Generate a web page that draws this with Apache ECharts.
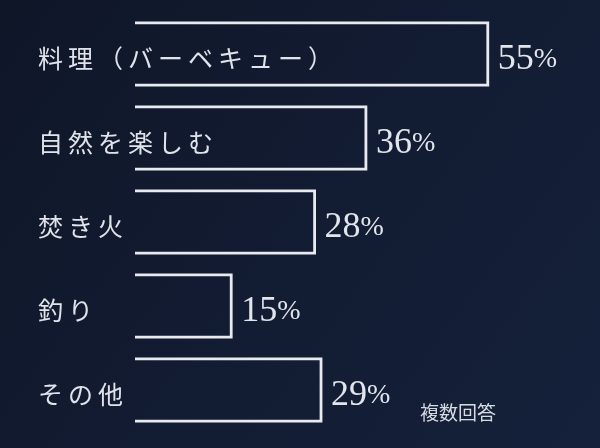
<!DOCTYPE html>
<html><head><meta charset="utf-8">
<script src="https://cdn.jsdelivr.net/npm/echarts@6/dist/echarts.min.js"></script>
<style>html,body{margin:0;padding:0;background:#121a2c;}#c{width:600px;height:448px;}</style>
</head><body><div id="c"></div>
<script>
const categories = ['料理（バーベキュー）', '自然を楽しむ', '焚き火', '釣り', 'その他'];
const values = [55, 36, 28, 15, 29];
const note = '複数回答';

const chart = echarts.init(document.getElementById('c'));
chart.setOption({
  backgroundColor: {
    type: 'linear', x: 0, y: 0, x2: 1, y2: 1,
    colorStops: [{offset: 0, color: '#0f1628'}, {offset: 1, color: '#15213b'}]
  },
  grid: {left: 135, right: 16, top: 12, bottom: 16},
  xAxis: {type: 'value', min: 0, max: 70, show: false},
  yAxis: {
    type: 'category', data: categories, inverse: true,
    axisLine: {show: false}, axisTick: {show: false},
    axisLabel: {
      align: 'left', margin: 97, color: '#e0e3ea', fontSize: 25,
      fontFamily: 'Noto Sans CJK JP', verticalAlign: 'top', lineHeight: 9,
      formatter: function (s) { return s.split('').join('\u2009'); }
    }
  },
  graphic: [{
    type: 'text', left: 420, top: 403,
    style: {text: note, fill: '#d6dae2', fontSize: 19, fontFamily: 'Noto Sans CJK JP'}
  }],
  series: [{
    type: 'custom',
    data: values.map((v, i) => [v, i]),
    encode: {x: 0, y: 1},
    renderItem: function (params, api) {
      const v = api.value(0), idx = api.value(1);
      const p0 = api.coord([0, idx]);
      const p1 = api.coord([v, idx]);
      const h = api.size([0, 1])[1] * 0.74;
      const yT = p0[1] - h / 2, yB = p0[1] + h / 2;
      return {
        type: 'group',
        children: [{
          type: 'polyline',
          shape: {points: [[p0[0], yT], [p1[0], yT], [p1[0], yB], [p0[0], yB]]},
          style: {stroke: '#e8eaf0', lineWidth: 2.8, fill: null}
        }, {
          type: 'text',
          x: p1[0] + 10, y: p0[1] + 6,
          style: {
            text: '{n|' + v + '}{p|%}',
            verticalAlign: 'middle', align: 'left',
            rich: {
              n: {fontSize: 36, fontFamily: 'Liberation Serif', fill: '#e2e5ec'},
              p: {fontSize: 28, fontFamily: 'Liberation Serif', fill: '#e2e5ec'}
            }
          }
        }]
      };
    }
  }]
});
</script></body></html>
